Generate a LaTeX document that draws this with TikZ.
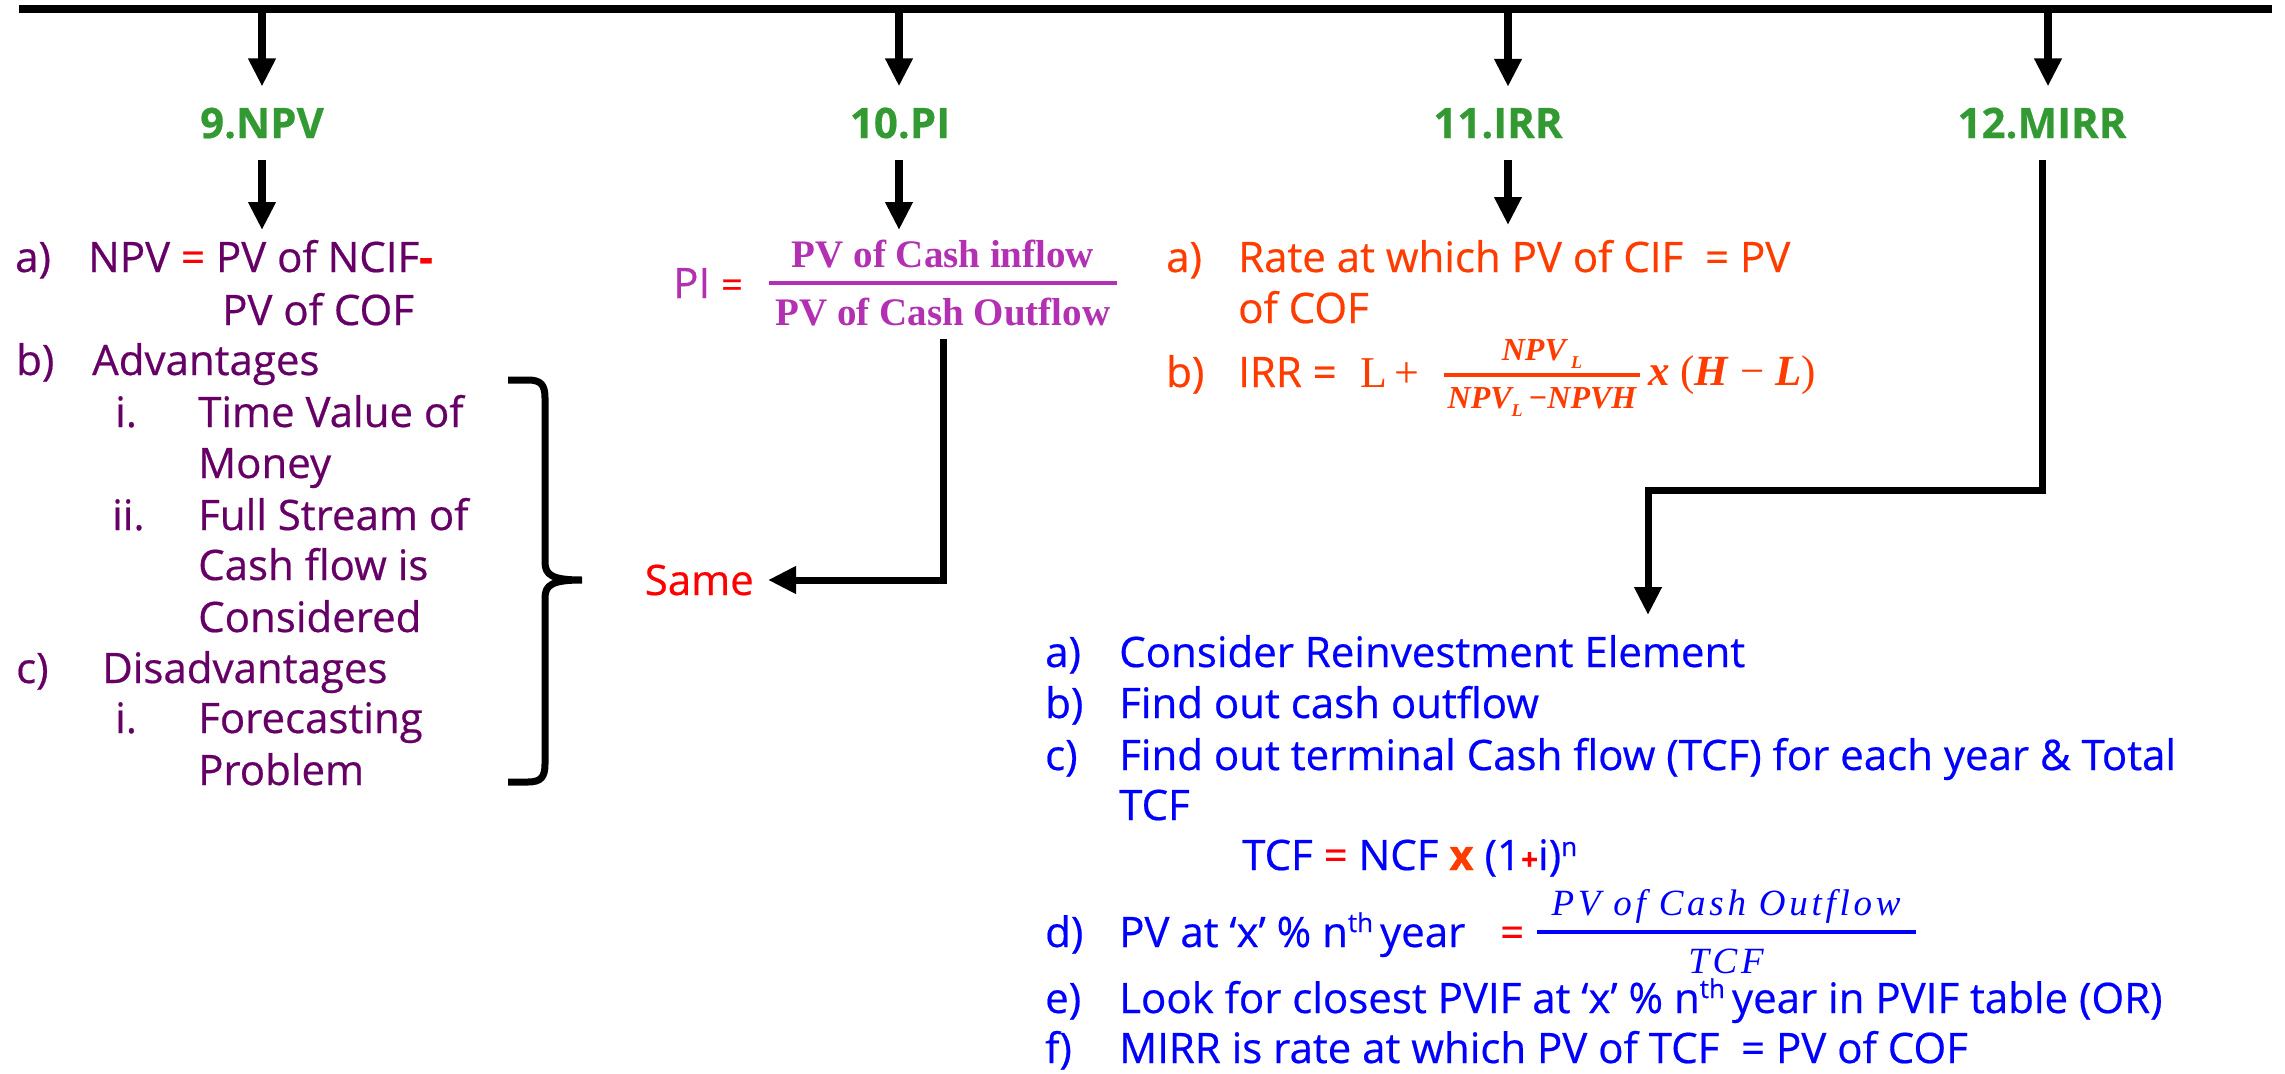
\documentclass[tikz,border=0pt]{standalone}
\usepackage{fontspec}
\setmainfont[FakeBold=0.5]{Open Sans}
\newfontfamily\mserif{Liberation Serif}
\newfontfamily\mserifsp[LetterSpace=10]{Liberation Serif}
\usetikzlibrary{arrows.meta}
\definecolor{grn}{RGB}{51,153,51}
\definecolor{pur}{RGB}{102,0,102}
\definecolor{mag}{RGB}{178,48,178}
\definecolor{org}{RGB}{255,60,0}
\definecolor{blu}{RGB}{0,0,255}
\definecolor{rd}{RGB}{255,0,0}
\begin{document}
\begin{tikzpicture}[x=1pt,y=-1pt,
  txt/.style={anchor=base west, inner sep=0pt, font=\fontsize{42}{50}\selectfont},
  ptxt/.style={txt, text=pur},
  otxt/.style={txt, text=org},
  btxt/.style={txt, text=blu},
  lbl/.style={anchor=base, inner xsep=0pt, inner ysep=21pt, text=grn, font=\bfseries\fontsize{42}{50}\selectfont},
  arr/.style={line width=8pt, -{Triangle[length=28pt,width=26pt]}},
  conn/.style={line width=7pt, -{Triangle[length=28pt,width=26pt]}},
  fbar/.style={line width=4pt},
]
\useasboundingbox (0,0) rectangle (2285,1073);

% top bar
\draw[line width=8pt] (19,9) -- (2272,9);
\coordinate (b1) at (262,9);
\coordinate (b2) at (899,9);
\coordinate (b3) at (1508,9);
\coordinate (b4) at (2048,9);

% labels
\node[lbl] (n9) at (262,138) {9.NPV};
\node[lbl] (n10) at (900,138) {10.PI};
\node[lbl] (n11) at (1498,138) {11.IRR};
\node[lbl] (n12) at (2042,138) {12.MIRR};

\draw[arr] (b1) -- (n9.north);
\draw[arr] (b2) -- (b2 |- n10.north);
\draw[arr] (b3) -- (b3 |- n11.north);
\draw[arr] (b4) -- (b4 |- n12.north);

\coordinate (a9) at (262,230);
\coordinate (a10) at (899,230);
\coordinate (a11) at (1508,225);
\draw[arr] (n9.south) -- (a9);
\draw[arr] (n10.south -| a10) -- (a10);
\draw[arr] (n11.south -| a11) -- (a11);

% ---------- NPV column ----------
\node[ptxt] (npa) at (15,272) {a)};
\node[ptxt] (npat) at (88,272) {NPV {\color{rd}=} PV of NCIF{\color{rd}\bfseries -}};
\node[ptxt] (npat2) at (222,325) {PV of COF};
\node[ptxt] (npb) at (16,375) {b)};
\node[ptxt] (npbt) at (92,375) {Advantages};
\node[ptxt] (npb1) at (115,427) {i.};
\node[ptxt] (npb1t) at (198,427) {Time Value of};
\node[ptxt] (npb1u) at (198,478) {Money};
\node[ptxt] (npb2) at (112,530) {ii.};
\node[ptxt] (npb2t) at (198,530) {Full Stream of};
\node[ptxt] (npb2u) at (198,580) {Cash flow is};
\node[ptxt] (npb2v) at (198,632) {Considered};
\node[ptxt] (npc) at (16,683) {c)};
\node[ptxt] (npct) at (102,683) {Disadvantages};
\node[ptxt] (npc1) at (115,733) {i.};
\node[ptxt] (npc1t) at (198,733) {Forecasting};
\node[ptxt] (npc1u) at (198,785) {Problem};

% brace
\draw[line width=7pt, line cap=butt]
  (508,380) -- (528,380) .. controls (541,380) and (545,385) .. (545,398)
  -- (545,562) .. controls (545,575) and (552,580) .. (582,580)
  .. controls (552,580) and (545,585) .. (545,598)
  -- (545,764) .. controls (545,777) and (541,782) .. (528,782) -- (508,782);

% ---------- PI column ----------
\node[txt, text=mag] (pi) at (673,298) {PI {\color{rd}\fontsize{38}{40}\selectfont =}};
\node[anchor=base, inner xsep=0pt, inner ysep=0pt, text=mag, font=\mserif\bfseries\fontsize{39}{46}\selectfont] (pinum) at (943,267) {PV of Cash inflow};
\node[anchor=base, inner xsep=0pt, inner ysep=13pt, text=mag, font=\mserif\bfseries\fontsize{39}{46}\selectfont] (piden) at (943,325) {PV of Cash Outflow};
\draw[fbar, mag] (769,283) -- (1117,283);
\node[anchor=east, inner xsep=14pt, inner ysep=0pt, text=rd, font=\fontsize{42}{50}\selectfont] (same) at (768,580) {Same};
\draw[conn] (piden.south) |- (same.east);

% ---------- IRR column ----------
\node[otxt] (ira) at (1166,272) {a)};
\node[otxt] (irat) at (1238,272) {Rate at which PV of CIF\ \ = PV};
\node[otxt] (irat2) at (1238,323) {of COF};
\node[otxt] (irb) at (1166,387) {b)};
\node[otxt] (irbt) at (1238,387) {IRR =};
\node[anchor=base west, inner sep=0pt, text=org, font=\mserif\fontsize{44}{50}\selectfont] (irl) at (1360,387) {L\,+};
\node[anchor=base, inner sep=0pt, text=org, font=\mserif\bfseries\itshape\fontsize{32}{38}\selectfont] (irnum) at (1542,360) {NPV\,\raisebox{-8pt}{\fontsize{18}{20}\selectfont L}};
\node[anchor=base, inner sep=0pt, text=org, font=\mserif\bfseries\itshape\fontsize{32}{38}\selectfont] (irden) at (1542,408) {NPV\raisebox{-8pt}{\fontsize{18}{20}\selectfont L}\,−NPVH};
\draw[fbar, org] (1444,375) -- (1640,375);
\node[anchor=base west, inner sep=0pt, text=org, font=\mserif\fontsize{43}{48}\selectfont] (irx) at (1648,385) {\textbf{\textit{x}}\ (\textbf{\textit{H}}\ −\ \textbf{\textit{L}})};

% ---------- MIRR column ----------
\coordinate (m12) at (1648,615);
\draw[conn] (n12.south) -- ++(0,331) -| (m12);

\node[btxt] (ma) at (1045,667) {a)};
\node[btxt] (mat) at (1119,667) {Consider Reinvestment Element};
\node[btxt] (mb) at (1045,718) {b)};
\node[btxt] (mbt) at (1119,718) {Find out cash outflow};
\node[btxt] (mc) at (1045,770) {c)};
\node[btxt] (mct) at (1119,770) {Find out terminal Cash flow (TCF) for each year \& Total};
\node[btxt] (mct2) at (1119,820) {TCF};
\node[btxt] (mtcf) at (1242,870) {TCF {\color{rd}=} NCF {\color{org}\bfseries x} (1{\color{rd}\bfseries\fontsize{30}{36}\selectfont +}i)\raisebox{14pt}{\fontsize{26}{30}\selectfont n}};
\node[btxt] (md) at (1045,947) {d)};
\node[btxt] (mdt) at (1119,947) {PV at ‘x’ \% n\raisebox{15pt}{\fontsize{26}{30}\selectfont th}\,year};
\node[txt, text=rd] (mdeq) at (1500,947) {=};
\node[anchor=base, inner sep=0pt, text=blu, font=\mserifsp\itshape\fontsize{37}{42}\selectfont] (mdnum) at (1726,915) {PV of Cash Outflow};
\node[anchor=base, inner sep=0pt, text=blu, font=\mserifsp\itshape\fontsize{37}{42}\selectfont] (mdden) at (1726,973) {TCF};
\draw[fbar, blu] (1537,932) -- (1916,932);
\node[btxt] (me) at (1045,1013) {e)};
\node[btxt] (met) at (1119,1013) {Look for closest PVIF at ‘x’ \% n\raisebox{15pt}{\fontsize{26}{30}\selectfont th}\,year in PVIF table (OR)};
\node[btxt] (mf) at (1045,1063) {f)};
\node[btxt] (mft) at (1119,1063) {MIRR is rate at which PV of TCF\ \ = PV of COF};
\end{tikzpicture}
\end{document}
